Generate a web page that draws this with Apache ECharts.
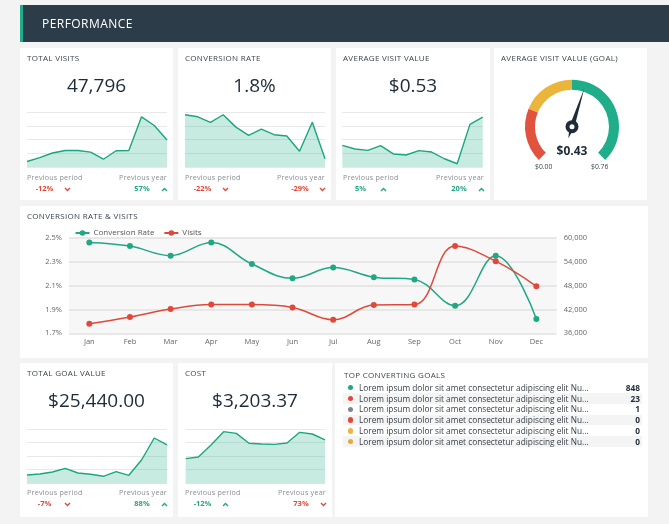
<!DOCTYPE html>
<html><head><meta charset="utf-8">
<script src="https://cdn.jsdelivr.net/npm/echarts@6/dist/echarts.min.js"></script>
<style>
html,body{margin:0;padding:0;background:#f3f3f3;width:669px;height:524px;overflow:hidden;font-family:'Open Sans',sans-serif;}
.card{position:absolute;background:#fff;}
.t{position:absolute;white-space:nowrap;line-height:1;}
.t svg{display:block;}
#chart{position:absolute;left:0;top:0;width:669px;height:524px;}
#txt{position:absolute;left:0;top:0;width:669px;height:524px;pointer-events:none;}
</style></head><body>
<div id="layer"></div>
<div id="chart"></div>
<div id="txt"></div>
<script>
// ---------- data ----------
const months = ['Jan','Feb','Mar','Apr','May','Jun','Jul','Aug','Sep','Oct','Nov','Dec'];
const visits = [38400, 40100, 42100, 43200, 43200, 42500, 39400, 43100, 43200, 57900, 54100, 47796];
const conversionRate = [2.46, 2.43, 2.35, 2.46, 2.28, 2.16, 2.25, 2.17, 2.15, 1.93, 2.35, 1.82];
const avgVisitValue = [0.366, 0.345, 0.337, 0.364, 0.316, 0.310, 0.335, 0.327, 0.288, 0.259, 0.488, 0.53];
const goalValue = [5520, 6180, 7510, 9940, 6850, 5960, 4640, 7730, 5300, 15460, 30040, 25440];
const cost = [1816, 1939, 2822, 3804, 3681, 2945, 2896, 2871, 2969, 3755, 3632, 3203.37];
const gaugeValue = 0.43, gaugeMin = 0, gaugeMax = 0.76;
const goalNames = ['Lorem ipsum dolor sit amet consectetur adipiscing elit Nu...','Lorem ipsum dolor sit amet consectetur adipiscing elit Nu...','Lorem ipsum dolor sit amet consectetur adipiscing elit Nu...','Lorem ipsum dolor sit amet consectetur adipiscing elit Nu...','Lorem ipsum dolor sit amet consectetur adipiscing elit Nu...','Lorem ipsum dolor sit amet consectetur adipiscing elit Nu...'];
const goalCounts = [848, 23, 1, 0, 0, 0];
const goalColors = ['#20a884','#e0493a','#7e878f','#e0493a','#efb53c','#e3a93a'];

const GREEN = '#20a884', RED = '#e0493a', DARK = '#1e2b38';

// ---------- layout helpers ----------
const layer = document.getElementById('layer');
const txt = document.getElementById('txt');
function box(x,y,w,h,style){const d=document.createElement('div');d.className='card';d.style.cssText=`left:${x}px;top:${y}px;width:${w}px;height:${h}px;`+(style||'');layer.appendChild(d);return d;}
function text(s,x,y,align,style,parent){const d=document.createElement('div');d.className='t';d.textContent=s;
  const tx=align==='c'?'-50%':align==='r'?'-100%':'0';d.style.cssText=`left:${x}px;top:${y}px;transform:translate(${tx},-50%);`+(style||'');(parent||txt).appendChild(d);return d;}
function chev(x,y,up,color){const d=document.createElement('div');d.className='t';d.style.cssText=`left:${x-3.5}px;top:${y-2.5}px;width:7px;height:5px;`;
  d.innerHTML=`<svg width="7" height="5" viewBox="0 0 7 5"><polyline points="${up?'1,4 3.5,1.5 6,4':'1,1 3.5,3.5 6,1'}" fill="none" stroke="${color}" stroke-width="1.4"/></svg>`;txt.appendChild(d);}

// header
box(20,5,649,36.5,'background:#2c3d49;border-left:3px solid #20ae8a;box-sizing:border-box;');
text('PERFORMANCE',42,23.5,'l','color:#fff;font-size:12px;letter-spacing:0.45px;');

const TITLE='color:#3a4450;font-size:8px;letter-spacing:0.3px;';
const BIG='color:'+DARK+';font-size:19px;';
const SMALL='color:#8a8f94;font-size:7.2px;letter-spacing:0.2px;';
const VAL='font-size:7.5px;font-weight:700;';

function kpiCard(x,y,w,h,title,big,pp,py){
  box(x,y,w,h);
  text(title,x+7,y+9.7,'l',TITLE);
  text(big,x+w/2,y+36.5,'c',BIG);
  text('Previous period',x+7,y+129.7,'l',SMALL);
  text('Previous year',x+w-6,y+129.7,'r',SMALL);
  text(pp[0],x+24.5,y+141.3,'c',VAL+'color:'+pp[1]+';');
  chev(x+47,y+141.3,pp[2],pp[1]);
  text(py[0],x+w-31,y+141.3,'c',VAL+'color:'+py[1]+';');
  chev(x+w-8.5,y+141.3,py[2],py[1]);
}
kpiCard(20,48,153,152,'TOTAL VISITS','47,796',['-12%',RED,false],['57%',GREEN,true]);
kpiCard(178,48,153,152,'CONVERSION RATE','1.8%',['-22%',RED,false],['-29%',RED,false]);
kpiCard(336,48,154,152,'AVERAGE VISIT VALUE','$0.53',['5%',GREEN,true],['20%',GREEN,true]);
box(494,48,153,152);
text('AVERAGE VISIT VALUE (GOAL)',501,57.7,'l',TITLE);
text('$0.00',543.7,166.7,'c','color:#3a4450;font-size:6.8px;');
text('$0.76',599.7,166.7,'c','color:#3a4450;font-size:6.8px;');

box(20,206,628,152);
text('CONVERSION RATE & VISITS',27,216,'l',TITLE);

kpiCard(20,363,153,154,'TOTAL GOAL VALUE','$25,440.00',['-7%',RED,false],['88%',GREEN,true]);
kpiCard(178,363,154,154,'COST','$3,203.37',['-12%',GREEN,true],['73%',RED,false]);

box(335,363,313,154);
text('TOP CONVERTING GOALS',344,374.7,'l',TITLE);
goalNames.forEach((n,i)=>{
  const cy=387.7+i*10.8;
  if(i%2===1) box(343,cy-5.4,299,10.8,'background:#f4f4f4;');
  const dot=document.createElement('div');dot.className='t';
  dot.style.cssText=`left:${350.7-2.7}px;top:${cy-2.7}px;width:5.4px;height:5.4px;border-radius:50%;background:${goalColors[i]};`;
  txt.appendChild(dot);
  text(n,359,cy,'l','color:#333c45;font-size:8.3px;');
  text(String(goalCounts[i]),640,cy,'r','color:'+DARK+';font-size:8.3px;font-weight:700;');
});

// ---------- charts ----------
const chart = echarts.init(document.getElementById('chart'), null, {renderer:'canvas'});
const spark = [
  {l:27,t:112,w:140,h:55,data:visits,min:36000,max:60000,iv:6000},
  {l:185,t:112,w:140,h:55,data:conversionRate,min:1.7,max:2.5,iv:0.2},
  {l:342.3,t:112,w:140.4,h:55,data:avgVisitValue,min:0.24,max:0.56,iv:0.08},
  {l:27,t:429,w:140,h:54.3,data:goalValue,min:0,max:36000,iv:9000},
  {l:185.7,t:429,w:139.3,h:54.3,data:cost,min:0,max:4000,iv:1000}
];
const grid=[], xAxis=[], yAxis=[], series=[];
spark.forEach((s,i)=>{
  grid.push({left:s.l,top:s.t,width:s.w,height:s.h,containLabel:false});
  xAxis.push({type:'category',gridIndex:i,data:months,boundaryGap:false,show:false});
  yAxis.push({type:'value',gridIndex:i,min:s.min,max:s.max,interval:s.iv,axisLabel:{show:false},axisLine:{show:false},axisTick:{show:false},
    splitLine:{lineStyle:{color:'#e8e8e8',width:1}}});
  series.push({type:'line',xAxisIndex:i,yAxisIndex:i,data:s.data,symbol:'none',lineStyle:{color:'#1ba680',width:1.4},
    areaStyle:{color:'rgba(32,174,135,0.36)',origin:'start'},z:2});
});
// main chart
const mg = grid.length;
grid.push({left:69,top:237.7,width:487.7,height:95.6,show:true,backgroundColor:'#f7f7f7',borderWidth:0});
xAxis.push({type:'category',gridIndex:mg,data:months,boundaryGap:true,axisLine:{show:false},axisTick:{show:false},
  axisLabel:{fontSize:7.5,color:'#666',margin:5}});
const yl = yAxis.length;
yAxis.push({type:'value',gridIndex:mg,position:'left',min:1.7,max:2.5,interval:0.2,axisLine:{show:false},axisTick:{show:false},
  axisLabel:{fontSize:7.5,color:'#666',margin:7,formatter:v=>v.toFixed(1)+'%'},splitLine:{lineStyle:{color:'#e2e2e2',width:1.5}}});
yAxis.push({type:'value',gridIndex:mg,position:'right',min:36000,max:60000,interval:6000,axisLine:{show:false},axisTick:{show:false},
  axisLabel:{fontSize:7.5,color:'#666',margin:7,formatter:v=>v.toLocaleString('en-US')},splitLine:{show:false}});
series.push({name:'Conversion Rate',type:'line',xAxisIndex:mg,yAxisIndex:yl,data:conversionRate,smooth:0.4,symbol:'circle',symbolSize:6,
  itemStyle:{color:GREEN},lineStyle:{color:GREEN,width:1.5},z:3});
series.push({name:'Visits',type:'line',xAxisIndex:mg,yAxisIndex:yl+1,data:visits,smooth:0.4,symbol:'circle',symbolSize:6,
  itemStyle:{color:RED},lineStyle:{color:RED,width:1.5},z:3});
// gauge
series.push({type:'gauge',center:[572,126.7],radius:47,startAngle:225,endAngle:-45,min:gaugeMin,max:gaugeMax,
  axisLine:{lineStyle:{width:10,color:[[0.25,'#e2533f'],[0.5,'#ebb43a'],[1,'#20ae8a']]}},
  splitLine:{show:false},axisTick:{show:false},axisLabel:{show:false},progress:{show:false},
  pointer:{icon:'path://M50,0 L100,77 L50,100 L0,77 Z',length:52,width:5,offsetCenter:[0,12],itemStyle:{color:DARK}},
  anchor:{show:true,showAbove:true,size:9,itemStyle:{color:'#fff',borderColor:DARK,borderWidth:4}},
  title:{show:false},
  detail:{offsetCenter:[0,24.5],formatter:v=>'$'+v.toFixed(2),fontSize:12,fontWeight:'bold',color:DARK,fontFamily:'Open Sans'},
  data:[{value:gaugeValue}]});

chart.setOption({
  animation:false,
  textStyle:{fontFamily:'Open Sans'},
  legend:{data:['Conversion Rate','Visits'],left:69.5,top:224,itemWidth:14,itemHeight:7,itemGap:9,
    textStyle:{fontSize:8,color:'#555',padding:[0,0,0,-1]}},
  grid, xAxis, yAxis, series
});
</script>
</body></html>
